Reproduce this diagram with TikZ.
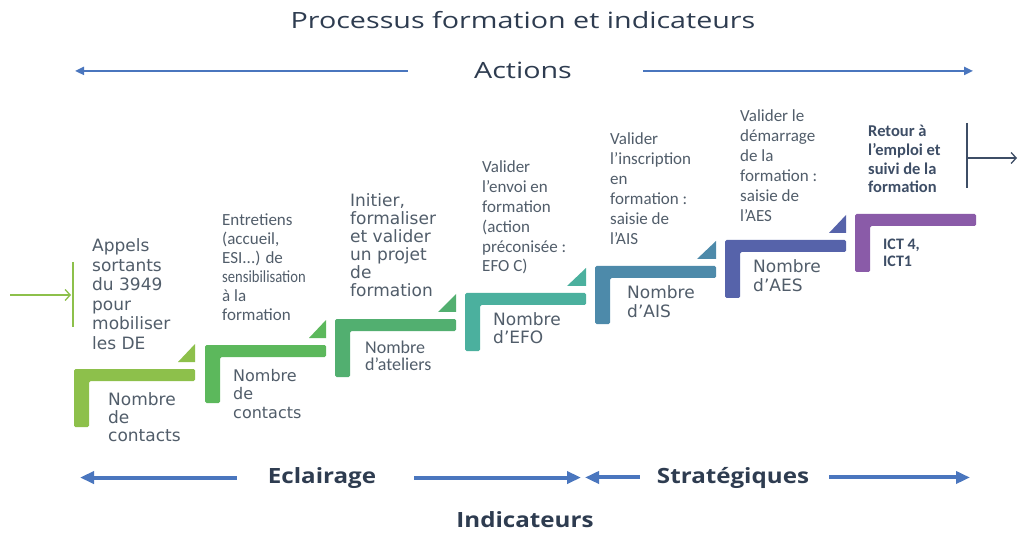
\documentclass[tikz,border=0pt]{standalone}
\usepackage{fontspec}
\setmainfont{DejaVu Sans}
\newfontfamily\narrowfont{Carlito}
\newfontfamily\titlefont[FakeStretch=1.28]{Open Sans}
\newfontfamily\labelfont[FakeStretch=1.15]{Open Sans}
\usetikzlibrary{arrows.meta}
\definecolor{stepA}{HTML}{8DC04B}
\definecolor{stepB}{HTML}{5CB85C}
\definecolor{stepC}{HTML}{52AF70}
\definecolor{stepD}{HTML}{4BB09E}
\definecolor{stepE}{HTML}{4D8AAA}
\definecolor{stepF}{HTML}{5663AA}
\definecolor{stepG}{HTML}{8A5BA8}
\definecolor{txtgray}{HTML}{515D6A}
\definecolor{txtdark}{HTML}{2E3C50}
\definecolor{arrblue}{HTML}{4A76BE}
\definecolor{exitblue}{HTML}{3E4E66}
\tikzset{
  txt/.style = {inner sep=0, align=left, anchor=base west, text=txtgray},
  wide/.style = {txt, font=\fontsize{17}{19.5}\selectfont},
  narrow/.style = {txt, font=\narrowfont\fontsize{17}{19.5}\selectfont},
  headtxt/.style = {inner sep=0, anchor=base, text=txtdark, font=\titlefont\fontsize{22.4}{26}\selectfont},
  labtxt/.style = {inner sep=0, anchor=base, text=txtdark, font=\labelfont\bfseries\fontsize{21}{24}\selectfont},
  toparrow/.style = {arrblue, line width=2.2pt, -{Triangle[length=9pt,width=8pt]}},
  botarrow/.style = {arrblue, line width=4pt, -{Triangle[length=14pt,width=12pt]}},
}
\begin{document}
\begin{tikzpicture}[x=1pt, y=-1pt]
    \useasboundingbox [fill=white] (0,0) rectangle (1019,534);
    % titre et actions
    \node [headtxt] (title) at (523,29) {Processus formation et indicateurs};
    \node [headtxt] (actions) at (523,79) {Actions};
    \coordinate (actL) at (75,70);
    \coordinate (actR) at (973,70);
    \draw [toparrow] ([xshift=-66pt]actions.west) -- (actL |- actions.west);
    \draw [toparrow] ([xshift=71pt]actions.east) -- (actR |- actions.east);
    % marches
    \fill [stepA, rounded corners=1.5pt] (74,369) -- ++(121,0) -- ++(0,12) -- ++(-106,0) -- ++(0,46) -- ++(-15,0) -- cycle;
    \fill [stepA] (195,362) -- ++(0,-18) -- ++(-17,18) -- cycle;
    \fill [stepB, rounded corners=1.5pt] (205,345) -- ++(121,0) -- ++(0,12) -- ++(-106,0) -- ++(0,46) -- ++(-15,0) -- cycle;
    \fill [stepB] (326,338) -- ++(0,-18) -- ++(-17,18) -- cycle;
    \fill [stepC, rounded corners=1.5pt] (335,319) -- ++(121,0) -- ++(0,12) -- ++(-106,0) -- ++(0,46) -- ++(-15,0) -- cycle;
    \fill [stepC] (456,312) -- ++(0,-18) -- ++(-18,18) -- cycle;
    \fill [stepD, rounded corners=1.5pt] (465,293) -- ++(121,0) -- ++(0,12) -- ++(-106,0) -- ++(0,46) -- ++(-15,0) -- cycle;
    \fill [stepD] (586,286) -- ++(0,-18) -- ++(-19,18) -- cycle;
    \fill [stepE, rounded corners=1.5pt] (595,266) -- ++(121,0) -- ++(0,12) -- ++(-106,0) -- ++(0,46) -- ++(-15,0) -- cycle;
    \fill [stepE] (716,259) -- ++(0,-18) -- ++(-19,18) -- cycle;
    \fill [stepF, rounded corners=1.5pt] (725,240) -- ++(121,0) -- ++(0,12) -- ++(-106,0) -- ++(0,46) -- ++(-15,0) -- cycle;
    \fill [stepF] (846,233) -- ++(0,-18) -- ++(-17,18) -- cycle;
    \fill [stepG, rounded corners=1.5pt] (855,214) -- ++(121,0) -- ++(0,12) -- ++(-106,0) -- ++(0,46) -- ++(-15,0) -- cycle;
    % actions (ancre sur la derniere ligne)
    \node [wide] (act1) at (92,349) {Appels\\sortants\\du 3949\\pour\\mobiliser\\les DE};
    \node [narrow, font=\narrowfont\fontsize{17}{19}\selectfont] (act2) at (222,320) {Entretiens\\(accueil,\\ESI...) de\\\scalebox{0.86}[1]{sensibilisation}\\à la\\formation};
    \node [wide, font=\fontsize{17}{18}\selectfont] (act3) at (350,297) {Initier,\\formaliser\\et valider\\un projet\\de\\formation};
    \node [narrow, font=\narrowfont\fontsize{17}{19.8}\selectfont] (act4) at (482,272) {Valider\\l’envoi en\\formation\\(action\\préconisée :\\EFO C)};
    \node [narrow, font=\narrowfont\fontsize{17}{20}\selectfont] (act5) at (610,245) {Valider\\l’inscription\\en\\formation :\\saisie de\\l’AIS};
    \node [narrow, font=\narrowfont\fontsize{17}{20}\selectfont] (act6) at (740,222) {Valider le\\démarrage\\de la\\formation :\\saisie de\\l’AES};
    \node [narrow, text=exitblue, font=\narrowfont\bfseries\fontsize{16.5}{18.7}\selectfont] (act7) at (868,193) {Retour à\\l’emploi et\\suivi de la\\formation};
    % indicateurs
    \node [wide, font=\fontsize{17}{18}\selectfont] (ind1) at (108,441) {Nombre\\de\\contacts};
    \node [wide, font=\fontsize{16}{18.5}\selectfont] (ind2) at (233,418) {Nombre\\de\\contacts};
    \node [narrow, font=\narrowfont\fontsize{18}{17}\selectfont] (ind3) at (365,370) {Nombre\\d’ateliers};
    \node [wide, font=\fontsize{17}{18}\selectfont] (ind4) at (493,343) {Nombre\\d’EFO};
    \node [wide, font=\fontsize{17}{19}\selectfont] (ind5) at (627,317) {Nombre\\d’AIS};
    \node [wide, font=\fontsize{17}{19}\selectfont] (ind6) at (753,292) {Nombre\\d’AES};
    \node [narrow, text=exitblue, font=\narrowfont\bfseries\fontsize{16}{17}\selectfont] (ind7) at (883,267) {ICT 4,\\ICT1};
    % entree et sortie
    \coordinate (inA) at (10,295);
    \coordinate (inB) at (71,295);
    \draw [stepA, line width=1.5pt] (73,262) -- (73,327);
    \draw [stepA, line width=1.3pt, -{Straight Barb[length=5pt,width=11pt]}] (inA) -- (inB);
    \coordinate (outA) at (967,158);
    \coordinate (outB) at (1017,158);
    \draw [exitblue, line width=1.8pt] (967,123) -- (967,188);
    \draw [exitblue, line width=1.3pt, -{Straight Barb[length=5pt,width=11pt]}] (outA) -- (outB);
    % indicateurs en bas
    \node [labtxt] (eclair) at (322,483) {Eclairage};
    \node [labtxt] (strat) at (733,483) {Stratégiques};
    \node [labtxt] (indic) at (525,527) {Indicateurs};
    \coordinate (botL) at (80,475);
    \coordinate (botM) at (581,475);
    \coordinate (botN) at (585,475);
    \coordinate (botR) at (970,475);
    \draw [botarrow] ([xshift=-31pt]eclair.west) -- (botL |- eclair.west);
    \draw [botarrow] ([xshift=38pt]eclair.east) -- (botM |- eclair.east);
    \draw [botarrow] ([xshift=-17pt]strat.west) -- (botN |- strat.west);
    \draw [botarrow] ([xshift=20pt]strat.east) -- (botR |- strat.east);
\end{tikzpicture}
\end{document}
